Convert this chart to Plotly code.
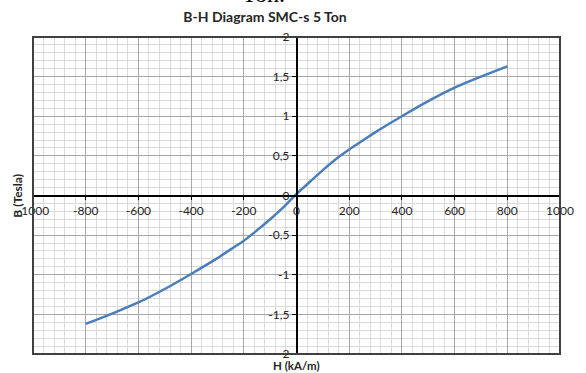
import plotly.graph_objects as go

# Data
H_values = [-800, -700, -600, -500, -400, -300, -250, -200, -150, -100, -50, 0,
            50, 100, 150, 200, 250, 300, 400, 500, 600, 700, 800]
B_values = [-1.62, -1.49, -1.35, -1.18, -0.99, -0.79, -0.68, -0.57, -0.44, -0.30, -0.15, 0.02,
            0.17, 0.32, 0.46, 0.58, 0.69, 0.80, 1.00, 1.19, 1.36, 1.50, 1.63]

x_tick_vals = [-1000, -800, -600, -400, -200, 0, 200, 400, 600, 800, 1000]
x_tick_text = ["-1000", "-800", "-600", "-400", "-200", "0", "200", "400", "600", "800", "1000"]
y_tick_vals = [-2, -1.5, -1, -0.5, 0, 0.5, 1, 1.5, 2]
y_tick_text = ["-2", "-1,5", "-1", "-0,5", "0", "0,5", "1", "1,5", "2"]

title_text = "B-H Diagram SMC-s 5 Ton"
x_title = "H (kA/m)"
y_title = "B (Tesla)"
doc_text = "Ton."

W, Hh = 586, 373
ml, mr, mt, mb = 33, 20, 37, 19
plot_h = Hh - mt - mb

def py(px):
    return (Hh - mb - px) / plot_h

tick_font = dict(family="Lato, Calibri, sans-serif", size=12, color="#262626")

fig = go.Figure()
fig.add_trace(go.Scatter(
    x=H_values, y=B_values, mode="lines",
    line=dict(color="#4a7ebb", width=2.5, shape="spline", smoothing=1.0),
    showlegend=False, hoverinfo="skip",
))

fig.update_layout(
    width=W, height=Hh,
    margin=dict(l=ml, r=mr, t=mt, b=mb),
    paper_bgcolor="white", plot_bgcolor="white",
    title=dict(text="<b>" + title_text + "</b>", x=265 / W, xref="container",
               xanchor="center", y=1 - 17 / Hh, yref="container", yanchor="middle",
               font=dict(family="Lato, Calibri, sans-serif", size=14, color="#262626")),
    xaxis=dict(
        range=[-1000, 1000], tickmode="array", tickvals=x_tick_vals, ticktext=x_tick_text,
        anchor="free", position=0.5, showline=True, linecolor="black", linewidth=1.5,
        ticks="outside", ticklen=4, tickcolor="black", tickwidth=1,
        showgrid=True, gridcolor="#a6a6a6", gridwidth=1, zeroline=False,
        minor=dict(dtick=40, tick0=0, showgrid=True, gridcolor="#d9d9d9", gridwidth=1),
        tickfont=tick_font, fixedrange=True,
    ),
    yaxis=dict(
        range=[-2, 2], tickmode="array", tickvals=y_tick_vals, ticktext=y_tick_text,
        anchor="free", position=0.5, showline=True, linecolor="black", linewidth=1.5,
        ticks="outside", ticklen=4, tickcolor="black", tickwidth=1,
        showgrid=True, gridcolor="#a6a6a6", gridwidth=1, zeroline=False,
        minor=dict(dtick=0.1, tick0=0, showgrid=True, gridcolor="#d9d9d9", gridwidth=1),
        tickfont=tick_font, fixedrange=True,
    ),
    shapes=[dict(type="rect", xref="paper", yref="paper", x0=0, y0=0, x1=1, y1=1,
                 line=dict(color="#404040", width=2), layer="above")],
    annotations=[
        dict(text="<b>" + x_title + "</b>", xref="paper", yref="paper", x=0.5, y=py(365),
             xanchor="center", yanchor="middle", showarrow=False,
             font=dict(family="Lato, Calibri, sans-serif", size=11.5, color="#262626")),
        dict(text="<b>" + y_title + "</b>", xref="paper", yref="paper", x=(17 - ml) / (W - ml - mr),
             y=0.5, xanchor="center", yanchor="middle", textangle=-90, showarrow=False,
             font=dict(family="Lato, Calibri, sans-serif", size=12, color="#262626")),
        dict(text=doc_text, xref="paper", yref="paper", x=(266 - ml) / (W - ml - mr), y=py(9),
             xanchor="center", yanchor="bottom", showarrow=False,
             font=dict(family="Liberation Serif, serif", size=24, color="black")),
    ],
)

fig.write_html("out.html")
